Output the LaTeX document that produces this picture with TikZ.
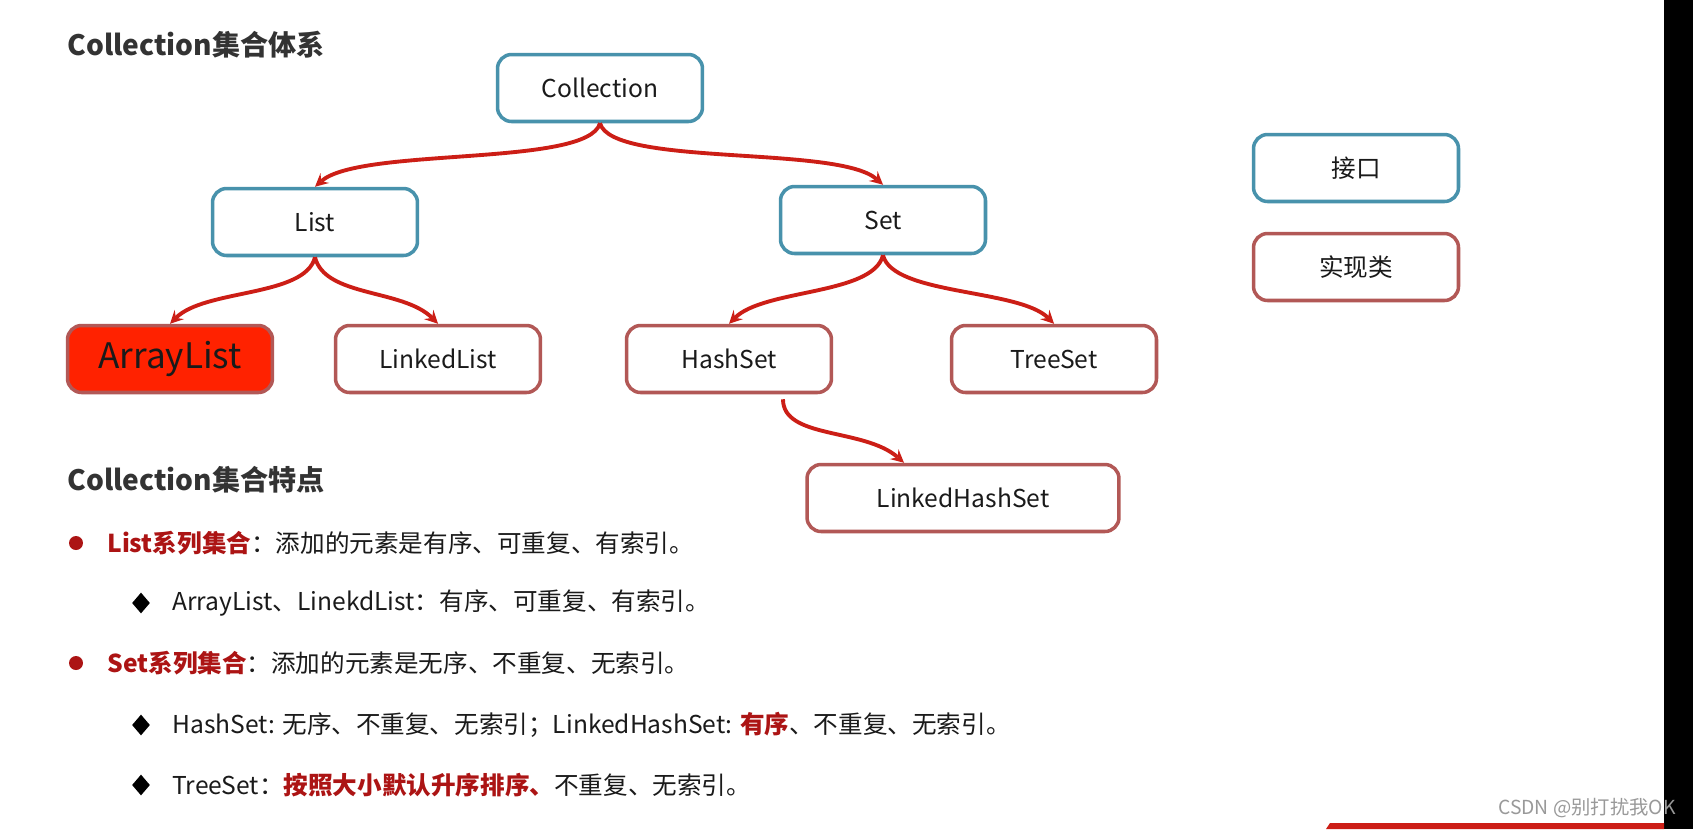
\documentclass[tikz,border=0pt]{standalone}
\usepackage{fontspec}
\setmainfont{Noto Sans CJK SC}
\usetikzlibrary{shapes.geometric}
\definecolor{ifblue}{RGB}{72,146,172}
\definecolor{impred}{RGB}{178,88,86}
\definecolor{arrred}{RGB}{204,30,22}
\definecolor{hired}{RGB}{172,20,20}
\definecolor{headgray}{RGB}{51,51,51}
\definecolor{alfill}{RGB}{255,34,0}
\definecolor{inkblack}{RGB}{26,26,26}
\tikzstyle{iface}=[draw=ifblue, line width=2pt, rounded corners=8pt, fill=white, minimum width=4.1cm, minimum height=1.34cm, inner sep=0pt, text=inkblack, font=\fontsize{14}{16}\selectfont]
\tikzstyle{impl}=[iface, draw=impred]
\tikzstyle{link}=[->, >=stealth, draw=arrred, line width=2.2pt]
\tikzstyle{heading}=[anchor=west, inner sep=0pt, text=headgray, font=\fontsize{16}{18}\selectfont\bfseries]
\tikzstyle{itemtext}=[anchor=west, inner sep=0pt, text=inkblack, font=\fontsize{14}{16}\selectfont]
\tikzstyle{bulletdot}=[circle, fill=hired, minimum size=0.28cm, inner sep=0pt]
\tikzstyle{subgem}=[diamond, fill=black, minimum width=0.36cm, minimum height=0.42cm, inner sep=0pt]

\begin{document}
\begin{tikzpicture}[x=0.02cm, y=-0.02cm]
\fill[white] (0, 0) rectangle (1693, 829);
\useasboundingbox (0, 0) rectangle (1693, 829);
\fill[black] (1664, 0) rectangle (1693, 829);
\fill[arrred] (1330, 823) -- (1664, 823) -- (1664, 829) -- (1326, 829) -- cycle;

% hierarchy
\node[heading] at (67, 45) (h1) {Collection集合体系};
\node[iface] at (600, 88) (col) {Collection};
\node[iface] at (315, 222) (list) {List};
\node[iface] at (883, 220) (set) {Set};
\node[impl, fill=alfill, font=\fontsize{20}{22}\selectfont] at (170, 359) (al) {ArrayList};
\node[impl] at (438, 359) (ll) {LinkedList};
\node[impl] at (729, 359) (hs) {HashSet};
\node[impl] at (1054, 359) (ts) {TreeSet};
\node[impl, minimum width=6.24cm] at (963, 498) (lhs) {LinkedHashSet};
\node[iface] at (1356, 168) (key1) {接口};
\node[impl] at (1356, 267) (key2) {实现类};

\draw[link] (col.south) .. controls +(-12, 44) and +(45, -40) .. (list.north);
\draw[link] (col.south) .. controls +(12, 44) and +(-45, -40) .. (set.north);
\draw[link] (list.south) .. controls +(-10, 40) and +(35, -35) .. (al.north);
\draw[link] (list.south) .. controls +(10, 40) and +(-35, -35) .. (ll.north);
\draw[link] (set.south) .. controls +(-10, 40) and +(35, -35) .. (hs.north);
\draw[link] (set.south) .. controls +(10, 40) and +(-35, -35) .. (ts.north);
\draw[link] ([xshift=1.08cm, yshift=-0.1cm]hs.south) .. controls +(0, 40) and +(-40, -35) .. ([xshift=-1.18cm]lhs.north);

% features
\node[heading] at (67, 480) (h2) {Collection集合特点};
\node[bulletdot] at (76, 543) (b1) {};
\node[itemtext] at (107, 543) (t1) {\textcolor{hired}{\bfseries List系列集合}：添加的元素是有序、可重复、有索引。};
\node[subgem] at (141, 603) (g1) {};
\node[itemtext] at (172, 603) (t2) {ArrayList、LinekdList：有序、可重复、有索引。};
\node[bulletdot] at (76, 663) (b2) {};
\node[itemtext] at (107, 663) (t3) {\textcolor{hired}{\bfseries Set系列集合}：添加的元素是无序、不重复、无索引。};
\node[subgem] at (141, 725) (g2) {};
\node[itemtext] at (172, 725) (t4) {HashSet: 无序、不重复、无索引；LinkedHashSet: \textcolor{hired}{\bfseries 有序}、不重复、无索引。};
\node[subgem] at (141, 785) (g3) {};
\node[itemtext] at (172, 785) (t5) {TreeSet：\textcolor{hired}{\bfseries 按照大小默认升序排序、}不重复、无索引。};

\node[anchor=east, inner sep=0pt, text=gray!80, font=\fontsize{11}{13}\selectfont] at (1676, 808) (wm) {CSDN @别打扰我OK};
\end{tikzpicture}
\end{document}
